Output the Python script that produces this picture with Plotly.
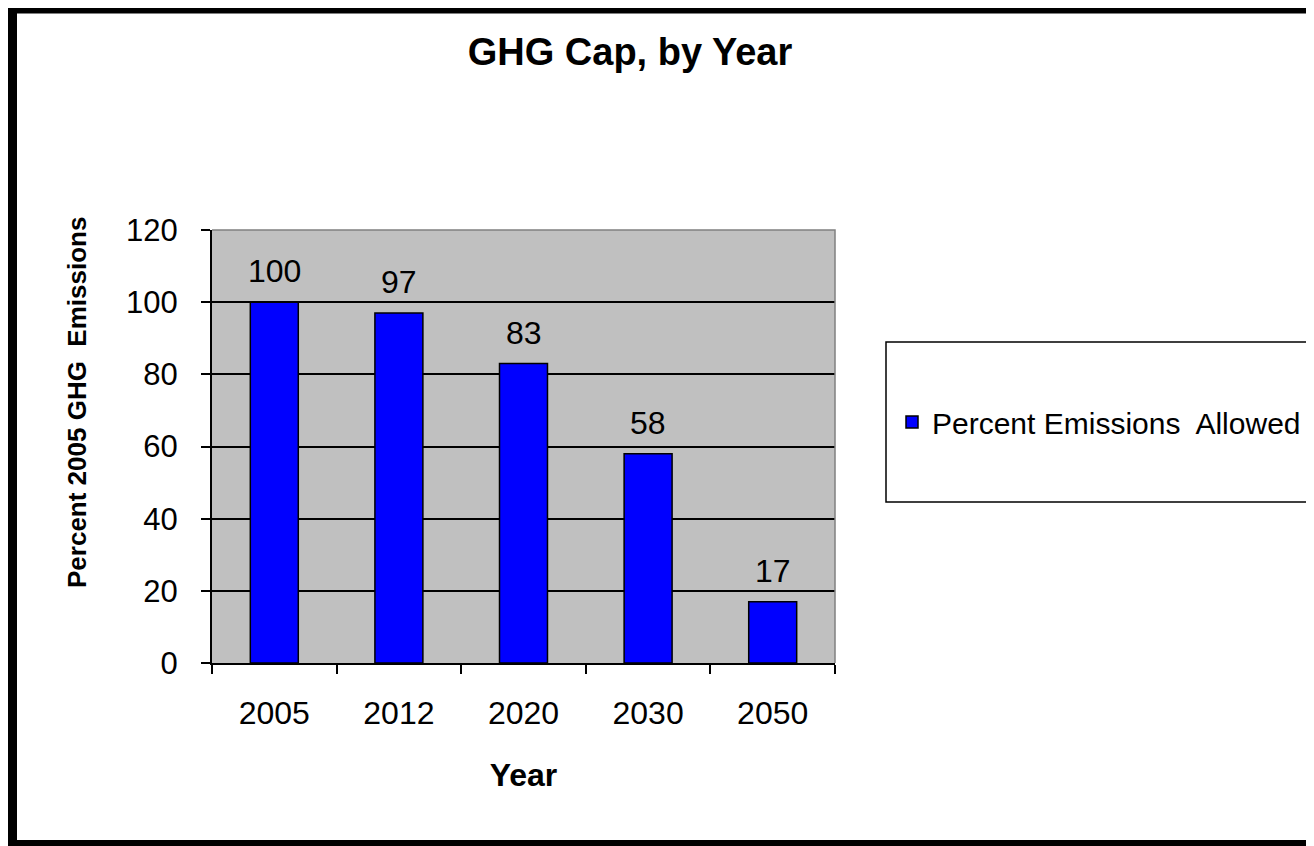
import plotly.graph_objects as go

years = ["2005", "2012", "2020", "2030", "2050"]
percent_allowed = [100, 97, 83, 58, 17]
y_ticks = [0, 20, 40, 60, 80, 100, 120]

# page body has an 8px margin; figure is sized to fit the remaining viewport
OFF = 8
W, H = 1314 - OFF, 846 - OFF
# plot area in screen pixels
L, R, T, B = 212, 835, 230, 663

def px(x):
    return (x - L) / (R - L)

def py(y):
    return (B - y) / (B - T)

FONT = "Liberation Sans, Arial, sans-serif"

fig = go.Figure()
fig.add_trace(go.Bar(
    x=years, y=percent_allowed, name="Percent Emissions  Allowed",
    marker=dict(color="#0000FF", line=dict(color="black", width=1.5)),
))

for i, (yr, v) in enumerate(zip(years, percent_allowed)):
    fig.add_annotation(x=i, y=v, xref="x", yref="y", text=str(v), showarrow=False,
                       yanchor="bottom", yshift=11,
                       font=dict(family=FONT, size=32, color="black"))

# y axis title (sits above the vertical centre of the plot in the reference)
fig.add_annotation(xref="paper", yref="paper", x=px(77), y=py(403),
                   text="Percent 2005 GHG  Emissions", textangle=-90, showarrow=False,
                   xanchor="center", yanchor="middle",
                   font=dict(family=FONT, size=26, color="black", weight="bold"))

shapes = [
    dict(type="path", xref="paper", yref="paper",
         path="M 0 1 L 1 1 L 1 0", line=dict(color="#808080", width=1.5), layer="above"),
    dict(type="rect", xref="paper", yref="paper",
         x0=px(886), x1=px(1340), y0=py(502), y1=py(342),
         line=dict(color="black", width=1.5), fillcolor="rgba(0,0,0,0)"),
    dict(type="rect", xref="paper", yref="paper",
         x0=px(12), x1=px(1345), y0=py(845), y1=py(8.5),
         line=dict(color="black", width=10), fillcolor="rgba(0,0,0,0)"),
]

fig.update_layout(
    width=W, height=H,
    margin=dict(l=L - OFF, r=W - (R - OFF), t=T - OFF, b=H - (B - OFF), autoexpand=False),
    paper_bgcolor="white", plot_bgcolor="#C0C0C0",
    bargap=0.615,
    font=dict(family=FONT, color="black"),
    title=dict(text="GHG Cap, by Year", x=(630 - OFF) / W, xanchor="center",
               y=1 - (52 - OFF) / H, yanchor="middle", xref="container", yref="container",
               font=dict(family=FONT, size=38, color="black", weight="bold")),
    showlegend=True,
    legend=dict(x=px(892), xanchor="left", y=py(422), yanchor="middle",
                bgcolor="rgba(0,0,0,0)", borderwidth=0,
                font=dict(family=FONT, size=30, color="black")),
    shapes=shapes,
    xaxis=dict(
        type="category", range=[-0.5, len(years) - 0.5], tickson="boundaries",
        ticks="outside", ticklen=9, tickangle=0,
        tickwidth=1.5, tickcolor="black", showline=True, linecolor="black", linewidth=2,
        showgrid=False, tickfont=dict(family=FONT, size=32, color="black"),
        ticklabelstandoff=21,
        title=dict(text="Year", standoff=33,
                   font=dict(family=FONT, size=32, color="black", weight="bold")),
    ),
    yaxis=dict(
        range=[0, 120], tickvals=y_ticks, ticks="outside", ticklen=9, tickwidth=1.5,
        tickcolor="black", showline=True, linecolor="black", linewidth=2,
        showgrid=True, gridcolor="black", gridwidth=1.5, zeroline=False,
        tickfont=dict(family=FONT, size=31, color="black"),
        ticklabelstandoff=17,
    ),
)

fig.write_html("out.html")
